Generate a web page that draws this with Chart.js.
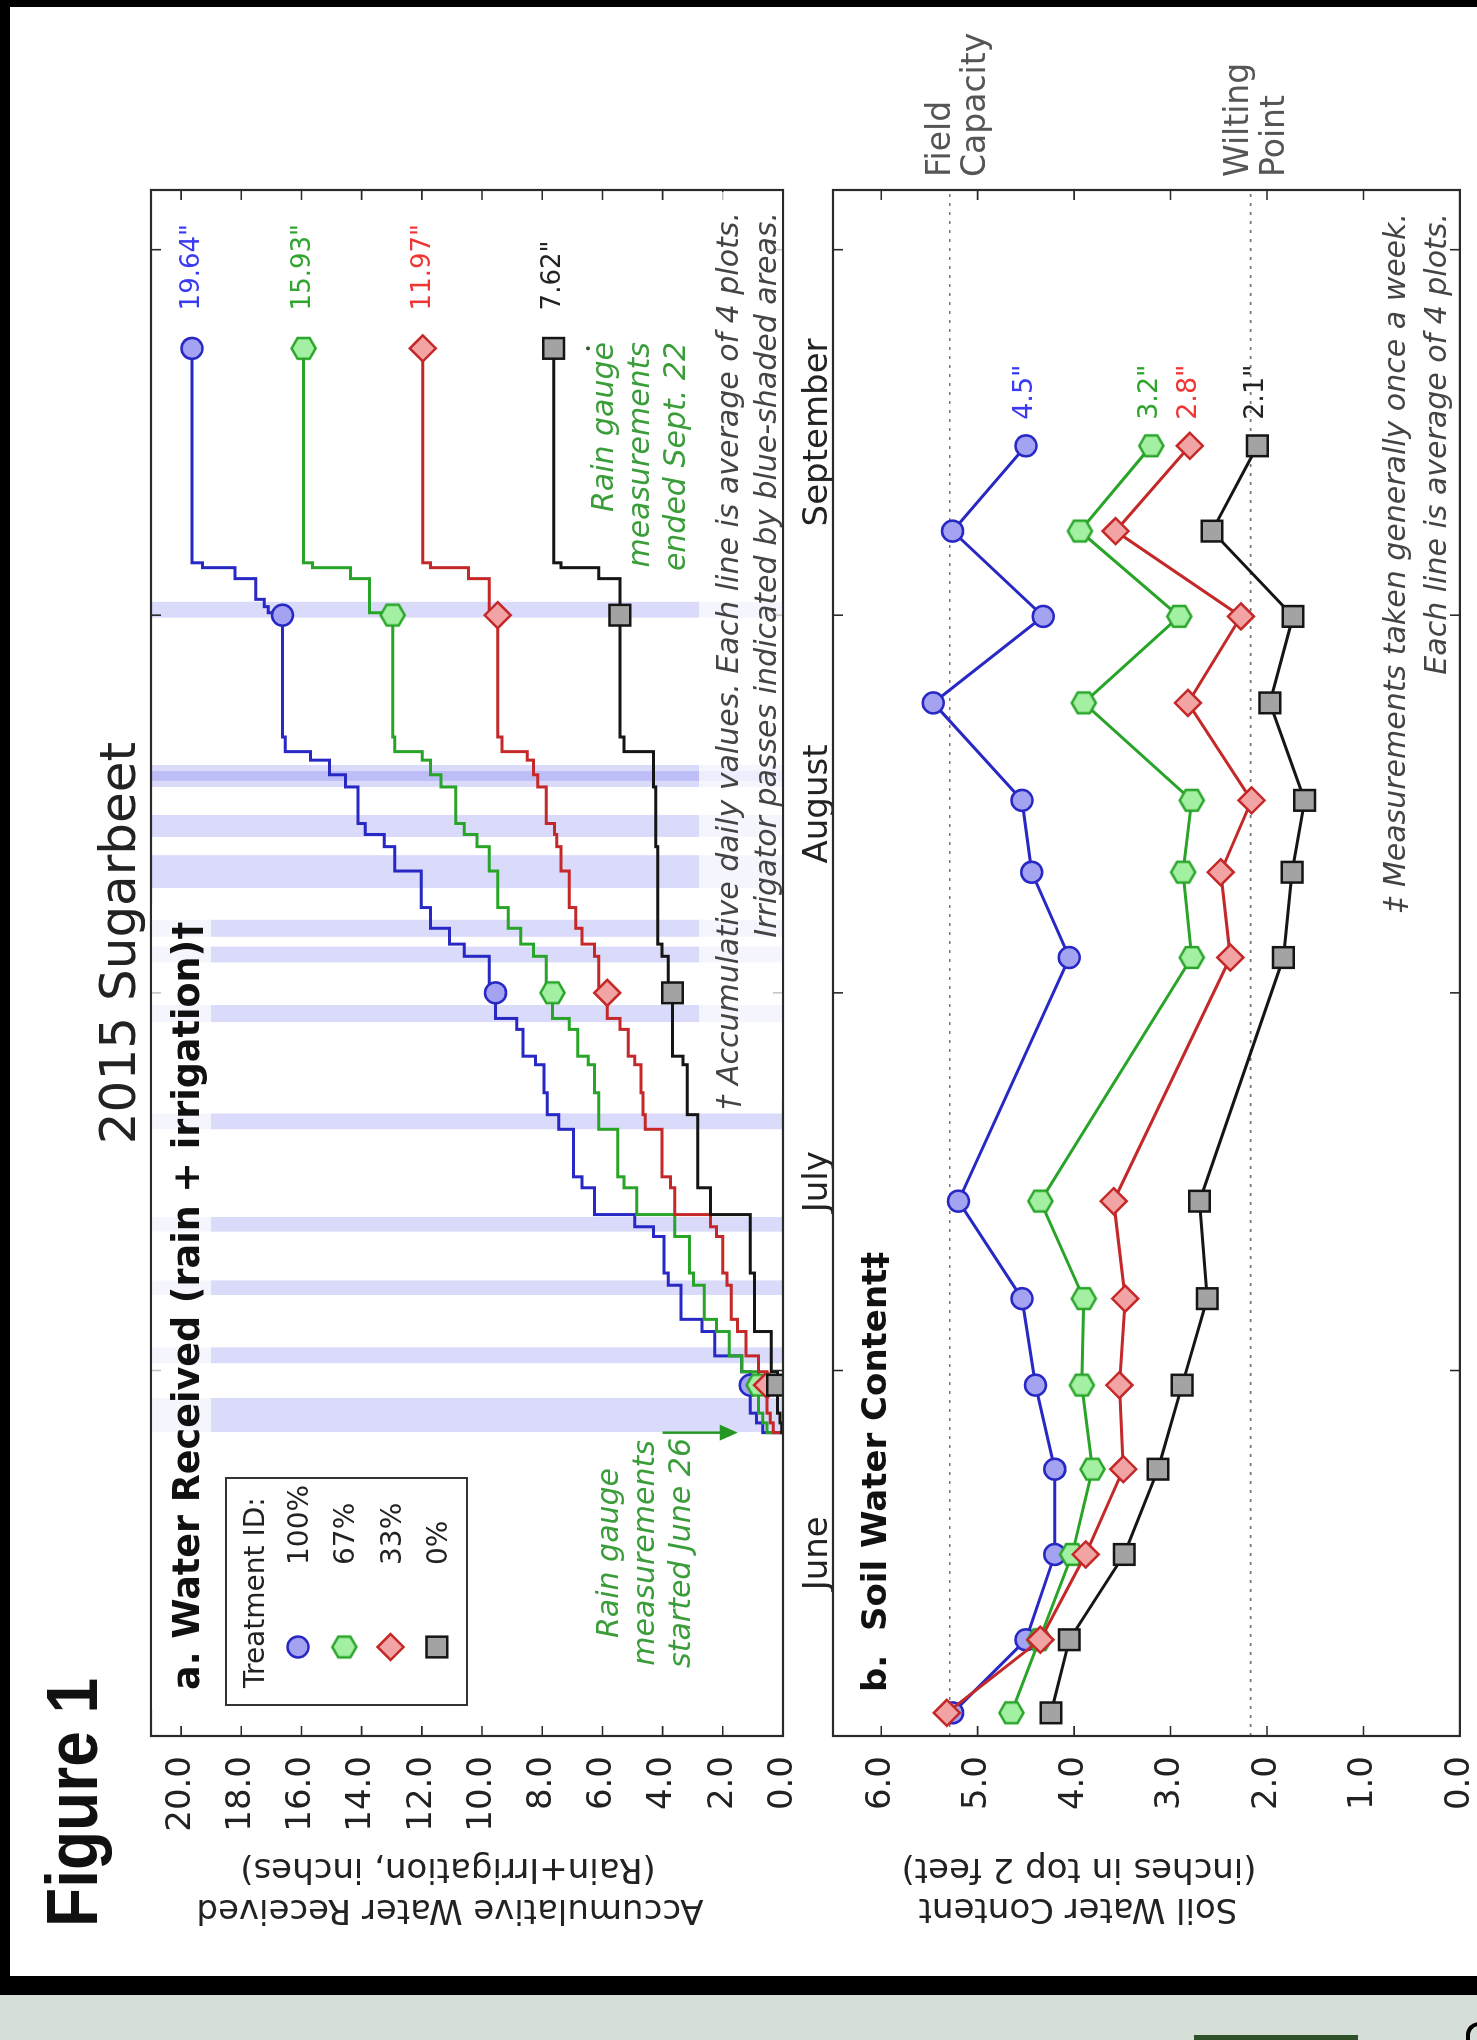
<!DOCTYPE html>
<html>
<head>
<meta charset="utf-8">
<title>2015 Sugarbeet</title>
<script src="https://cdn.jsdelivr.net/npm/chart.js@4.4.1/dist/chart.umd.min.js"></script>
<style>
  html, body { margin: 0; padding: 0; }
  body { width: 1477px; height: 2040px; position: relative; overflow: hidden; background: #000; font-family: 'DejaVu Sans', sans-serif; }
  #sheet { position: absolute; left: 10px; top: 7px; width: 1467px; height: 1969px; background: #fff; }
  #strip { position: absolute; left: 0; top: 1995px; width: 1477px; height: 45px; background: #d5dfd8; }
  #tab { position: absolute; left: 1194px; top: 2035px; width: 164px; height: 5px; background: #2e5028; }
  #glyph { position: absolute; left: 1466px; top: 2022px; width: 16px; height: 30px; border-left: 4px solid #000; border-top: 4px solid #000; border-top-left-radius: 13px; box-sizing: border-box; }
  /* the figure is laid out landscape and turned a quarter turn counter-clockwise */
  #fig { position: absolute; left: 0; top: 0; width: 2040px; height: 1477px; transform-origin: 0 0; transform: translate(0, 2040px) rotate(-90deg); }
  #fig canvas { position: absolute; left: 0; }
  .t { position: absolute; white-space: pre; line-height: 1; }
</style>
</head>
<body>
<div id="sheet"></div>
<div id="strip"></div>
<div id="tab"></div>
<div id="glyph"></div>
<div id="fig">
  <canvas id="water" width="2040" height="850" style="top:0"></canvas>
  <canvas id="soil" width="2040" height="677" style="top:800px"></canvas>
</div>
<script>
// ---------------- data ----------------
// dates are counted in days after June 1, 2015
const monthStartDays = [0, 30, 61, 92, 122];          // Jun 1, Jul 1, Aug 1, Sep 1, Oct 1
const monthLabelDays = [15, 45.5, 76.5, 107];
const monthNames = ['June', 'July', 'August', 'September'];
const axisEndDay = 126.9;

const treatments = ['100%', '67%', '33%', '0%'];

// a. accumulated rain + irrigation (inches), stepped daily totals
const stepDays = [24.9, 24.9, 25.7, 26.5, 27.6, 28.8, 29.9, 31.2, 33.2, 34.2,
                  37.0, 38.0, 41.0, 41.8, 42.8, 45.0, 45.9, 49.8, 51.0, 52.8,
                  55.1, 55.8, 58.0, 58.9, 61.0, 61.2, 64.0, 65.0, 66.3, 68.0,
                  71.0, 73.0, 74.0, 74.9, 77.9, 78.9, 80.1, 80.8, 82.0, 92.0,
                  92.2, 92.7, 93.3, 95.0, 95.9, 96.3, 113.9];
const water100 = [0, 0.67, 0.88, 1.09, 1.09, 1.09, 1.37, 2.27, 2.69, 3.39,
                  3.81, 3.95, 4.30, 4.93, 6.26, 6.68, 6.96, 7.45, 7.83, 7.94,
                  8.22, 8.64, 8.85, 9.55, 9.55, 9.76, 10.59, 11.08, 11.71, 12.02,
                  12.90, 13.25, 13.88, 14.12, 14.54, 15.07, 15.70, 16.54, 16.63, 16.63,
                  17.10, 17.24, 17.52, 18.21, 19.29, 19.64, 19.64];
const water67 = [0, 0.53, 0.67, 0.81, 0.81, 0.81, 1.37, 1.79, 2.21, 2.62,
                 2.97, 3.11, 3.60, 3.60, 4.86, 5.28, 5.49, 6.12, 6.12, 6.26,
                 6.47, 6.82, 7.10, 7.66, 7.66, 7.87, 8.29, 8.71, 9.13, 9.48,
                 9.76, 10.17, 10.59, 10.87, 11.36, 11.71, 11.99, 12.90, 12.97, 12.97,
                 13.74, 13.74, 13.74, 14.37, 15.63, 15.93, 15.93];
const water33 = [0, 0.32, 0.42, 0.53, 0.53, 0.53, 0.81, 1.23, 1.51, 1.72,
                 1.86, 2.00, 2.21, 2.41, 3.60, 3.74, 4.02, 4.58, 4.65, 4.72,
                 4.93, 5.14, 5.42, 5.84, 5.84, 6.12, 6.26, 6.68, 6.89, 7.10,
                 7.38, 7.52, 7.59, 7.87, 8.15, 8.29, 8.50, 9.34, 9.48, 9.48,
                 9.76, 9.76, 9.76, 10.45, 11.71, 11.97, 11.97];
const water0 = [0, 0.04, 0.10, 0.18, 0.18, 0.18, 0.39, 0.39, 0.95, 0.95,
                0.95, 1.09, 1.09, 1.09, 2.41, 2.83, 2.83, 2.83, 3.18, 3.18,
                3.32, 3.67, 3.67, 3.67, 3.67, 3.81, 4.02, 4.16, 4.16, 4.16,
                4.16, 4.23, 4.23, 4.23, 4.30, 4.30, 4.30, 5.28, 5.42, 5.42,
                5.42, 5.42, 5.42, 6.12, 7.38, 7.62, 7.62];
const waterMarkerDays = [28.8, 61.0, 92.0, 113.9];
const gaugeStartDay = 24.9;
const gaugeEndDay = 113.9;

// irrigator passes [first day, last day]
const irrigationPasses = [[24.96, 27.75], [30.6, 31.9], [36.2, 37.4], [41.4, 42.6],
                          [49.8, 51.1], [58.6, 60.0], [63.5, 64.8], [65.6, 67.0],
                          [69.6, 72.3], [73.8, 75.6], [77.9, 79.2], [78.4, 79.7],
                          [91.8, 93.1]];

// b. soil water content, inches in top 2 feet
const soilDays = [1.9, 7.9, 14.9, 21.9, 28.8, 35.9, 43.9, 63.9, 70.9, 76.8, 84.8, 91.9, 98.9, 105.9];
const soil100 = [5.26, 4.50, 4.20, 4.20, 4.40, 4.54, 5.20, 4.05, 4.44, 4.54, 5.46, 4.32, 5.26, 4.5];
const soil67  = [4.65, 4.36, 4.02, 3.81, 3.92, 3.90, 4.35, 2.78, 2.87, 2.78, 3.90, 2.91, 3.94, 3.2];
const soil33  = [5.32, 4.35, 3.88, 3.49, 3.53, 3.47, 3.59, 2.38, 2.48, 2.16, 2.82, 2.27, 3.57, 2.8];
const soil0   = [4.24, 4.05, 3.48, 3.13, 2.88, 2.62, 2.70, 1.83, 1.74, 1.61, 1.97, 1.73, 2.57, 2.1];
const fieldCapacity = 5.29;
const wiltingPoint = 2.17;

// ---------------- styling ----------------
Chart.defaults.font.family = "'DejaVu Sans', sans-serif";
Chart.defaults.color = '#222';
Chart.defaults.animation = false;

function hexagonMarker(fill, stroke, r, lw) {
  const s = Math.ceil(2 * r + lw + 2);
  const c = document.createElement('canvas');
  c.width = c.height = s;
  const g = c.getContext('2d');
  g.beginPath();
  for (let i = 0; i < 6; i++) {
    const a = -Math.PI / 2 + i * Math.PI / 3;
    const px = s / 2 + r * Math.cos(a), py = s / 2 + r * Math.sin(a);
    if (i) g.lineTo(px, py); else g.moveTo(px, py);
  }
  g.closePath();
  g.fillStyle = fill; g.fill();
  g.lineWidth = lw; g.strokeStyle = stroke; g.stroke();
  return c;
}

const styles = [
  { line: '#2828c4', fill: '#a3a3f2', point: 'circle', radius: 10.5, text: '#3a3af2' },
  { line: '#28a428', fill: '#a3f0a3', point: hexagonMarker('#a3f0a3', '#28a428', 12, 2.5), radius: 12, text: '#2fa52f' },
  { line: '#c42828', fill: '#f2a3a3', point: 'rectRot', radius: 13, text: '#f03535' },
  { line: '#151515', fill: '#a3a3a3', point: 'rect', radius: 14.6, text: '#222' }
];

// date axis: unlabelled ticks at month starts, month names mid-month
function dateAxis(showLabels, height) {
  return {
    type: 'linear', min: 0, max: axisEndDay,
    grid: { display: false }, border: { display: false },
    afterBuildTicks: s => {
      s.ticks = monthStartDays.concat(monthLabelDays).sort((a, b) => a - b).map(v => ({ value: v }));
    },
    ticks: {
      display: showLabels, autoSkip: false, maxRotation: 0, minRotation: 0, padding: 7,
      font: { size: 34 }, color: '#222',
      callback: v => { const i = monthLabelDays.indexOf(v); return i >= 0 ? monthNames[i] : ''; }
    },
    afterFit: s => { s.height = height; s.paddingLeft = 0; s.paddingRight = 0; }
  };
}
function valueAxis(max, step) {
  return {
    type: 'linear', min: 0, max: max,
    grid: { display: false }, border: { display: false },
    ticks: { stepSize: step, includeBounds: false, padding: 12, font: { size: 34 }, color: '#222',
             callback: v => v.toFixed(1) },
    afterFit: s => { s.width = 304; s.paddingTop = 0; s.paddingBottom = 0; }
  };
}

// axes box with inward ticks on all four sides
const framePlugin = {
  id: 'frame',
  afterDatasetsDraw(chart) {
    const { ctx, chartArea: a, scales: { x, y } } = chart;
    const L = 10;
    ctx.save();
    ctx.strokeStyle = '#2a2a2a';
    ctx.lineWidth = 1.6;
    ctx.beginPath();
    monthStartDays.forEach(d => {
      const px = x.getPixelForValue(d);
      if (px < a.left + 1 || px > a.right - 1) return;
      ctx.moveTo(px, a.top); ctx.lineTo(px, a.top + L);
      ctx.moveTo(px, a.bottom); ctx.lineTo(px, a.bottom - L);
    });
    y.ticks.forEach(t => {
      const py = y.getPixelForValue(t.value);
      ctx.moveTo(a.left, py); ctx.lineTo(a.left + L, py);
      ctx.moveTo(a.right, py); ctx.lineTo(a.right - L, py);
    });
    ctx.stroke();
    ctx.lineWidth = 2.2;
    ctx.strokeRect(a.left, a.top, a.width, a.height);
    ctx.restore();
  }
};

// irrigator passes as shaded day spans
const passesPlugin = {
  id: 'passes',
  beforeDatasetsDraw(chart) {
    const { ctx, chartArea: a, scales: { x } } = chart;
    ctx.save();
    ctx.fillStyle = 'rgba(70, 70, 235, 0.2)';
    irrigationPasses.forEach(([d0, d1]) => {
      const x0 = x.getPixelForValue(d0), x1 = x.getPixelForValue(d1);
      ctx.fillRect(x0, a.top, x1 - x0, a.height);
    });
    ctx.restore();
  }
};

// arrow marking the first rain gauge reading, dot marking the last
const gaugeArrowPlugin = {
  id: 'gaugeArrow',
  afterDatasetsDraw(chart) {
    const { ctx, scales: { x, y } } = chart;
    const px = x.getPixelForValue(gaugeStartDay);
    const y0 = y.getPixelForValue(4.0), y1 = y.getPixelForValue(1.5);
    ctx.save();
    ctx.strokeStyle = '#249624'; ctx.fillStyle = '#249624'; ctx.lineWidth = 2.5;
    ctx.beginPath(); ctx.moveTo(px, y0); ctx.lineTo(px, y1 - 14); ctx.stroke();
    ctx.beginPath(); ctx.moveTo(px, y1); ctx.lineTo(px - 8, y1 - 18); ctx.lineTo(px + 8, y1 - 18); ctx.closePath(); ctx.fill();
    ctx.fillStyle = '#2d5a2d';
    ctx.beginPath(); ctx.arc(x.getPixelForValue(gaugeEndDay), y.getPixelForValue(6.48), 2, 0, Math.PI * 2); ctx.fill();
    ctx.restore();
  }
};

function endLabelPlugin(id, series, digits, dx, dy, baseline, size) {
  return {
    id,
    afterDatasetsDraw(chart) {
      const { ctx } = chart;
      ctx.save();
      ctx.font = `${size}px 'DejaVu Sans'`;
      ctx.textAlign = 'left';
      ctx.textBaseline = baseline;
      series.forEach((vals, k) => {
        const pts = chart.getDatasetMeta(k).data;
        const p = pts[pts.length - 1];
        ctx.fillStyle = styles[k].text;
        ctx.fillText(vals[vals.length - 1].toFixed(digits) + '"', p.x + dx, p.y + dy);
      });
      ctx.restore();
    }
  };
}

const legendPlugin = {
  id: 'treatmentLegend',
  afterDraw(chart) {
    const { ctx } = chart;
    ctx.save();
    ctx.fillStyle = '#fff'; ctx.fillRect(335, 226, 227, 241);
    ctx.strokeStyle = '#333'; ctx.lineWidth = 2; ctx.strokeRect(335, 226, 227, 241);
    ctx.font = "28px 'DejaVu Sans'"; ctx.textAlign = 'left'; ctx.textBaseline = 'alphabetic';
    ctx.fillStyle = '#222';
    ctx.fillText('Treatment ID:', 352, 264);
    treatments.forEach((name, k) => {
      const vc = 298 + k * 46.3;
      const s = styles[k];
      ctx.fillStyle = s.fill; ctx.strokeStyle = s.line; ctx.lineWidth = 2.5;
      Chart.helpers.drawPoint(ctx, { pointStyle: s.point, radius: s.radius, rotation: 0, borderWidth: 2.5 }, 393, vc);
      ctx.fillStyle = '#222';
      ctx.fillText(name, 475, vc + 10);
    });
    ctx.restore();
  }
};

// ---------------- a. water received ----------------
const waterSeries = [water100, water67, water33, water0];
const waterChart = new Chart(document.getElementById('water'), {
  type: 'line',
  data: {
    datasets: waterSeries.map((vals, k) => ({
      label: treatments[k],
      data: stepDays.map((d, i) => ({ x: d, y: vals[i] })),
      stepped: true,
      borderColor: styles[k].line, borderWidth: 3,
      pointStyle: styles[k].point,
      pointRadius: c => waterMarkerDays.includes(stepDays[c.dataIndex]) ? styles[k].radius : 0,
      pointBackgroundColor: styles[k].fill, pointBorderColor: styles[k].line, pointBorderWidth: 2.5,
      order: 4 - k
    }))
  },
  options: {
    responsive: false, events: [],
    layout: { padding: { left: 0, right: 190, top: 151, bottom: 0 } },
    plugins: { legend: { display: false }, tooltip: { enabled: false } },
    scales: { x: dateAxis(true, 67), y: valueAxis(21, 2) }
  },
  plugins: [passesPlugin, framePlugin, gaugeArrowPlugin,
            endLabelPlugin('waterEnds', waterSeries, 2, 38, 0, 'middle', 26), legendPlugin]
});

// ---------------- b. soil water content ----------------
const soilSeries = [soil100, soil67, soil33, soil0];
const refLine = (v) => ({
  data: [{ x: 0, y: v }, { x: axisEndDay, y: v }],
  borderColor: '#777', borderWidth: 1.6, borderDash: [3, 6], pointRadius: 0, order: 10
});
const soilChart = new Chart(document.getElementById('soil'), {
  type: 'line',
  data: {
    datasets: soilSeries.map((vals, k) => ({
      label: treatments[k],
      data: soilDays.map((d, i) => ({ x: d, y: vals[i] })),
      borderColor: styles[k].line, borderWidth: 3,
      pointStyle: styles[k].point, pointRadius: styles[k].radius,
      pointBackgroundColor: styles[k].fill, pointBorderColor: styles[k].line, pointBorderWidth: 2.5,
      order: 4 - k
    })).concat([refLine(fieldCapacity), refLine(wiltingPoint)])
  },
  options: {
    responsive: false, events: [],
    layout: { padding: { left: 0, right: 190, top: 33, bottom: 0 } },
    plugins: { legend: { display: false }, tooltip: { enabled: false } },
    scales: { x: dateAxis(false, 10), y: valueAxis(6.5, 1) }
  },
  plugins: [framePlugin, endLabelPlugin('soilEnds', soilSeries, 1, 26, 6, 'alphabetic', 27)]
});

// ---------------- figure text ----------------
const fig = document.getElementById('fig');
function put(str, u, base, o = {}) {
  const el = document.createElement('div');
  el.className = 't';
  el.textContent = str;
  const size = o.size || 30;
  el.style.fontSize = size + 'px';
  el.style.fontFamily = o.family || "'DejaVu Sans'";
  el.style.fontWeight = o.weight || 'normal';
  el.style.fontStyle = o.italic ? 'italic' : 'normal';
  el.style.color = o.color || '#222';
  el.style.left = u + 'px';
  el.style.top = (base - 0.846 * size) + 'px';
  const shift = o.align === 'right' ? '-100%' : o.align === 'center' ? '-50%' : '0';
  el.style.transformOrigin = '0 0';
  el.style.transform = `translateX(${shift})` + (o.squeeze ? ` scaleX(${o.squeeze})` : '');
  fig.appendChild(el);
  return el;
}
function putVertical(str, baseU, centerV, size) {
  const el = document.createElement('div');
  el.className = 't';
  el.textContent = str;
  el.style.fontSize = size + 'px';
  el.style.color = '#222';
  el.style.left = (baseU - 0.846 * size) + 'px';
  el.style.top = centerV + 'px';
  el.style.transformOrigin = '0 0';
  el.style.transform = 'rotate(-90deg) translateX(-50%)';
  fig.appendChild(el);
}
function putBox(u, v, w, h) {
  const el = document.createElement('div');
  el.style.cssText = `position:absolute;left:${u}px;top:${v}px;width:${w}px;height:${h}px;background:rgba(255,255,255,0.72);`;
  fig.appendChild(el);
}

put('Figure 1', 113, 97, { size: 72, weight: 'bold', family: "'Liberation Sans'", color: '#111', squeeze: 0.89 });
put('2015 Sugarbeet', 1097, 135, { size: 50, align: 'center' });

putVertical('Accumulative Water Received', 140, 450, 34);
putVertical('(Rain+Irrigation, inches)', 181, 448, 34);
putVertical('Soil Water Content', 141, 1078, 34);
putVertical('(inches in top 2 feet)', 181, 1079, 34);

// panel a notes
putBox(330, 152, 805, 59);
put('a. Water Received (rain + irrigation)\u2020', 350, 200, { size: 36.5, weight: 'bold', color: '#111' });
putBox(938, 699, 910, 83);
put('\u2020 Accumulative daily values. Each line is average of 4 plots.', 1828, 738, { italic: true, color: '#444', align: 'right' });
put('Irrigator passes indicated by blue-shaded areas.', 1828, 776, { italic: true, color: '#444', align: 'right' });

const green = '#3a9d3a';
put('Rain gauge', 487, 618, { italic: true, color: green, align: 'center' });
put('measurements', 487, 654, { italic: true, color: green, align: 'center' });
put('started June 26', 487, 690, { italic: true, color: green, align: 'center' });
put('Rain gauge', 1698, 613, { italic: true, color: green, align: 'right' });
put('measurements', 1698, 649, { italic: true, color: green, align: 'right' });
put('ended Sept. 22', 1698, 685, { italic: true, color: green, align: 'right' });

// panel b notes
put('b.  Soil Water Content\u2021', 348, 886, { size: 34, weight: 'bold', color: '#111' });
put('\u2021 Measurements taken generally once a week.', 1827, 1405, { italic: true, color: '#444', align: 'right' });
put('Each line is average of 4 plots.', 1827, 1446, { italic: true, color: '#444', align: 'right' });

const soilTop = 800;
const fcV = soilTop + soilChart.scales.y.getPixelForValue(fieldCapacity);
const wpV = soilTop + soilChart.scales.y.getPixelForValue(wiltingPoint);
const labelU = soilChart.chartArea.right + 13;
put('Field', labelU, fcV, { size: 33, color: '#555' });
put('Capacity', labelU, fcV + 35, { size: 33, color: '#555' });
put('Wilting', labelU, wpV - 3, { size: 33, color: '#555' });
put('Point', labelU, wpV + 33, { size: 33, color: '#555' });
</script>
</body>
</html>
